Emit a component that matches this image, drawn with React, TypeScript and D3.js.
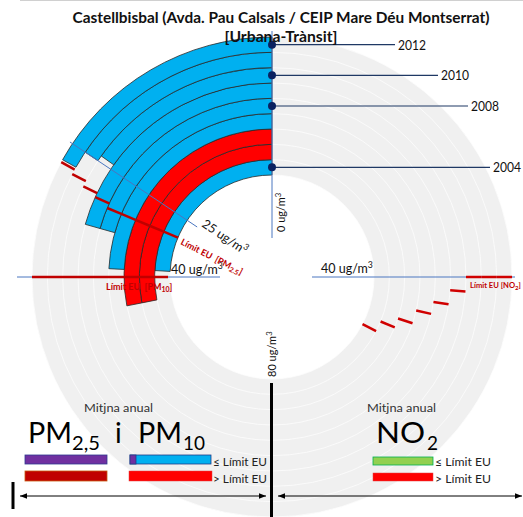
import React from "react";
import * as d3 from "d3";

// ---- data ----
const years = [2004, 2005, 2006, 2007, 2008, 2009, 2010, 2011, 2012];
const pm10Values = [38.6, 45, 45, 38.7, 33, 33, 24.3, 25, 27];
const pm10Limit = 40;
const pm25LimitMarks = [29.9, 29.9, 29.9, 29.9, 29.9, 29.2, 28.6, 27.9, 27.3];
const no2LimitMarks = [52.2, 49.9, 48.1, 45.8, 43.9, 41.9, 40, 40, 40];
const labeledYears = [2012, 2010, 2008, 2004];
const scaleMax = 80;
const pmAxisTicks = [0, 25, 40, 80];
const no2AxisTicks = [40];

const W = 523;
const H = 517;
const cx = 272;
const cy = 277;
const rIn = 102;
const rOut = 240;

const FONT = "Lato, 'Open Sans', sans-serif";
const BLUE = "#00b0f0";
const RED = "#ff0000";
const DARKRED = "#c00000";
const AXIS = "#4a76c0";
const NAVY = "#1f3864";

const leaderEnd: Record<number, number> = { 2012: 395, 2010: 438, 2008: 468, 2004: 490 };

export default function App() {
  const angle = d3.scaleLinear().domain([0, scaleMax]).range([0, Math.PI]);
  const radius = d3
    .scaleBand<number>()
    .domain(years)
    .range([rIn, rOut])
    .paddingInner(0)
    .paddingOuter(0);
  const bw = radius.bandwidth();

  const arc = d3.arc<any>();
  const pt = (a: number, r: number) => [cx + r * Math.sin(a), cy - r * Math.cos(a)];

  const bg = arc({ innerRadius: rIn, outerRadius: rOut, startAngle: 0, endAngle: 2 * Math.PI }) as string;

  const boundaries = years.map((y) => radius(y)!).concat([rOut]);

  const sup = (base: string, size: number) => (
    <>
      {base}
      <tspan fontSize={size * 0.7} dy={-size * 0.4}>
        3
      </tspan>
    </>
  );

  const pa = (v: number) => -angle(v); // PM side: counter-clockwise
  const na = (v: number) => angle(v); // NO2 side: clockwise

  const radial = (a: number, r1: number, r2: number, stroke: string, sw: number, key?: any) => {
    const [x1, y1] = pt(a, r1);
    const [x2, y2] = pt(a, r2);
    return <line key={key} x1={x1} y1={y1} x2={x2} y2={y2} stroke={stroke} strokeWidth={sw} />;
  };

  return (
    <svg
      width={W}
      height={H}
      viewBox={`0 0 ${W} ${H}`}
      style={{ position: "absolute", left: 0, top: 0, background: "#fff" }}
      fontFamily={FONT}
    >
      <line x1={20} x2={523} y1={0.5} y2={0.5} stroke="#d0d0d0" strokeWidth={1} />
      {/* background doughnut */}
      <path d={bg} transform={`translate(${cx},${cy})`} fill="#f0f0f0" />
      {boundaries.map((r, i) => (
        <circle key={i} cx={cx} cy={cy} r={r} fill="none" stroke="#fcfcfc" strokeWidth={0.8} />
      ))}

      {/* PM10 rings */}
      {years.map((y, i) => {
        const r0 = radius(y)!;
        const d = arc({
          innerRadius: r0,
          outerRadius: r0 + bw,
          startAngle: pa(pm10Values[i]),
          endAngle: 0,
        }) as string;
        return (
          <path
            key={y}
            d={d}
            transform={`translate(${cx},${cy})`}
            fill={pm10Values[i] > pm10Limit ? RED : BLUE}
            stroke="#2a2a2a"
            strokeWidth={0.8}
          />
        );
      })}

      {/* axis lines */}
      {radial(pa(pmAxisTicks[0]), 246, 39, AXIS, 1)}
      {radial(pa(pmAxisTicks[1]), 243, 90, AXIS, 1)}
      {radial(pa(pmAxisTicks[2]), 255, 52, AXIS, 1)}
      {radial(na(no2AxisTicks[0]), 40, 243, AXIS, 1)}

      {/* PM10 limit line */}
      {radial(pa(pm10Limit), rOut, 104, DARKRED, 2.5)}

      {/* PM2.5 limit marks */}
      {years.map((y, i) => {
        const r0 = radius(y)!;
        return radial(pa(pm25LimitMarks[i]), r0, r0 + bw, DARKRED, 2.5, y);
      })}

      {/* NO2 limit marks */}
      {years.map((y, i) => {
        const r0 = radius(y)!;
        return radial(na(no2LimitMarks[i]), r0, r0 + bw, "#d00000", 2.5, y);
      })}

      {/* year leaders */}
      {labeledYears.map((y) => {
        const rc = radius(y)! + bw / 2;
        const [x, yy] = pt(0, rc);
        return (
          <g key={y}>
            <line x1={x} y1={yy} x2={leaderEnd[y]} y2={yy} stroke={NAVY} strokeWidth={1.2} />
            <circle cx={x} cy={yy} r={4} fill="#0a2160" />
            <text x={leaderEnd[y] + 3} y={yy + 5} fontSize={13.5} fill="#111" textLength={28} lengthAdjust="spacingAndGlyphs">
              {y}
            </text>
          </g>
        );
      })}

      {/* axis labels */}
      <text transform={`translate(285,232) rotate(-90)`} fontSize={11} fill="#111">
        {sup("0 ug/m", 11)}
      </text>
      <text transform={`translate(276,377) rotate(-90)`} fontSize={11} fill="#111">
        {sup("80 ug/m", 11)}
      </text>
      <text x={171} y={274} fontSize={12.5} fill="#111">
        {sup("40 ug/m", 12.5)}
      </text>
      <text x={321} y={273} fontSize={12.5} fill="#111">
        {sup("40 ug/m", 12.5)}
      </text>
      <text transform={`translate(201,226) rotate(34)`} fontSize={12.5} fill="#111">
        {sup("25 ug/m", 12.5)}
      </text>

      {/* limit labels */}
      <text transform={`translate(180,244) rotate(27)`} fontSize={9} fontWeight="bold" fill={DARKRED}>
        Límit EU{"\u00a0\u00a0"}[PM
        <tspan fontSize={7} dy={2}>
          2.5
        </tspan>
        <tspan dy={-2}>]</tspan>
      </text>
      <text x={106} y={290} fontSize={9} fontWeight="bold" fill={DARKRED}>
        Límit EU{"\u00a0\u00a0"}[PM
        <tspan fontSize={7} dy={2}>
          10
        </tspan>
        <tspan dy={-2}>]</tspan>
      </text>
      <text x={470} y={288} fontSize={7.6} fontWeight="bold" fill={DARKRED}>
        Límit EU [NO
        <tspan fontSize={6} dy={2}>
          2
        </tspan>
        <tspan dy={-2}>]</tspan>
      </text>

      {/* center vertical black line and left bar */}
      <line x1={271.5} x2={271.5} y1={383} y2={517} stroke="#000" strokeWidth={3} />
      <line x1={13} x2={13} y1={482} y2={509} stroke="#000" strokeWidth={3} />

      {/* legend */}
      <text x={84} y={412} fontSize={11} fill="#333" textLength={69} lengthAdjust="spacingAndGlyphs">
        Mitjna anual
      </text>
      <text x={367} y={412} fontSize={11} fill="#333" textLength={69} lengthAdjust="spacingAndGlyphs">
        Mitjna anual
      </text>
      <text x={28} y={443} fontSize={28} fill="#000" textLength={44} lengthAdjust="spacingAndGlyphs">PM</text>
      <text x={72} y={450} fontSize={19} fill="#000" textLength={28} lengthAdjust="spacingAndGlyphs">2,5</text>
      <text x={115} y={443} fontSize={28} fill="#000">i</text>
      <text x={138} y={443} fontSize={28} fill="#000" textLength={44} lengthAdjust="spacingAndGlyphs">PM</text>
      <text x={183} y={450} fontSize={19} fill="#000" textLength={22} lengthAdjust="spacingAndGlyphs">10</text>
      <text x={376} y={443} fontSize={28} fill="#000" textLength={49} lengthAdjust="spacingAndGlyphs">NO</text>
      <text x={427} y={450} fontSize={19} fill="#000">2</text>

      <rect x={25} y={455} width={82} height={9} fill="#7030a0" stroke="#2f3a8f" strokeWidth={0.8} />
      <rect x={25} y={471} width={82} height={10} fill="#c00000" stroke="#c55a11" strokeWidth={0.8} />
      <rect x={130} y={455} width={81} height={9} fill={BLUE} stroke="#1f3c88" strokeWidth={0.8} />
      <rect x={130} y={455} width={6} height={9} fill="#7030a0" stroke="#1f3c88" strokeWidth={0.8} />
      <rect x={129} y={471} width={83} height={10} fill={RED} stroke="#e04040" strokeWidth={0.5} />
      <rect x={373} y={457} width={60} height={8} fill="#92d050" stroke="#00b050" strokeWidth={0.8} />
      <rect x={373} y={473} width={60} height={8} fill={RED} stroke="#e04040" strokeWidth={0.5} />

      <text x={213} y={466} fontSize={11} fill="#222" textLength={54} lengthAdjust="spacingAndGlyphs">
        ≤ Límit EU
      </text>
      <text x={213} y={483} fontSize={11} fill="#222" textLength={54} lengthAdjust="spacingAndGlyphs">
        {"> Límit EU"}
      </text>
      <text x={435} y={466} fontSize={11} fill="#222" textLength={56} lengthAdjust="spacingAndGlyphs">
        ≤ Límit EU
      </text>
      <text x={435} y={483} fontSize={11} fill="#222" textLength={56} lengthAdjust="spacingAndGlyphs">
        {"> Límit EU"}
      </text>

      {/* arrows */}
      <defs>
        <marker id="ah" viewBox="0 0 10 10" refX={10} refY={5} markerWidth={7} markerHeight={7} orient="auto-start-reverse">
          <path d="M0,1 L10,5 L0,9 z" fill="#000" />
        </marker>
      </defs>
      <line x1={20} x2={266} y1={496} y2={496} stroke="#000" strokeWidth={1} markerStart="url(#ah)" markerEnd="url(#ah)" />
      <line x1={278} x2={522} y1={496} y2={496} stroke="#000" strokeWidth={1} markerStart="url(#ah)" markerEnd="url(#ah)" />

      {/* title */}
      <text x={281} y={23} textAnchor="middle" fontSize={14.5} fontWeight="bold" fill="#111" textLength={417} lengthAdjust="spacingAndGlyphs">
        Castellbisbal (Avda. Pau Calsals / CEIP Mare Déu Montserrat)
      </text>
      <text x={281} y={42} textAnchor="middle" fontSize={14.5} fontWeight="bold" fill="#111" textLength={113} lengthAdjust="spacingAndGlyphs">
        [Urbana-Trànsit]
      </text>
    </svg>
  );
}
